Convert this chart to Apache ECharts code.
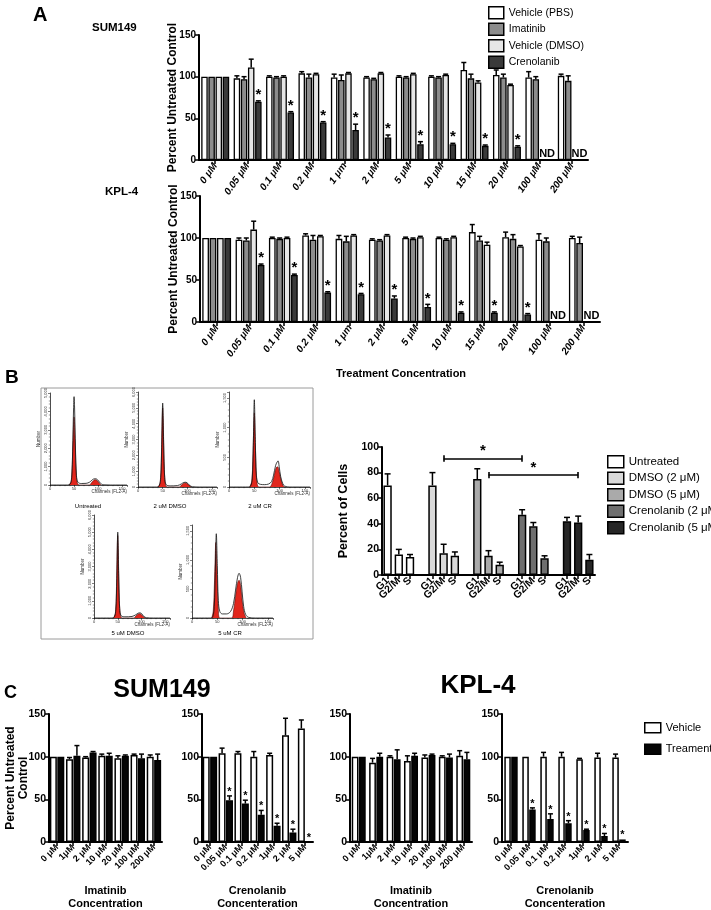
<!DOCTYPE html>
<html><head><meta charset="utf-8">
<script src="https://cdn.jsdelivr.net/npm/echarts@6/dist/echarts.min.js"></script>
<style>html,body{margin:0;padding:0;background:#fff}#c{width:711px;height:910px}</style>
</head><body><div id="c"></div>
<script>
// ================= DATA =================
// ---- Panel A ----
const aCategories = ['0 μM','0.05 μM','0.1 μM','0.2 μM','1 μm','2 μM','5 μM','10 μM','15 μM','20 μM','100 μM','200 μM'];
const aSeriesNames = ['Vehicle (PBS)','Imatinib','Vehicle (DMSO)','Crenolanib'];
// SUM149
const sumPBS      = [100,98,100,104,99,99,100,100,108,102,99,101];
const sumPBSErr   = [0,3,1,2,4,1,1,1,9,6,7,2];
const sumIma      = [100,97,99,99,96,97,99,99,98,99,97,95];
const sumImaErr   = [0,3,1,4,6,1,1,1,5,4,3,6];
const sumDMSO     = [100,111,100,103,104,104,103,102,93,90,null,null];
const sumDMSOErr  = [0,10,1,1,1,1,1,1,2,1,null,null];
const sumCren     = [100,70,57,45,36,27,19,19,17,16,null,null];
const sumCrenErr  = [0,1,1,1,7,3,3,1,1,1,null,null];
const sumCrenSig  = [0,1,1,1,1,1,1,1,1,1,0,0];
const sumCrenND   = [0,0,0,0,0,0,0,0,0,0,1,1];
// KPL-4
const kplPBS      = [100,98,100,103,99,98,100,100,107,101,98,100];
const kplPBSErr   = [0,2,1,2,4,1,1,1,9,6,7,2];
const kplIma      = [100,97,99,98,96,97,99,98,97,99,96,94];
const kplImaErr   = [0,3,1,5,6,1,1,1,5,5,4,7];
const kplDMSO     = [100,110,100,102,103,103,101,101,92,90,null,null];
const kplDMSOErr  = [0,10,1,1,1,1,1,1,3,1,null,null];
const kplCren     = [100,68,56,35,33,28,18,11,11,9,null,null];
const kplCrenErr  = [0,1,1,1,1,3,3,1,1,1,null,null];
const kplCrenSig  = [0,1,1,1,1,1,1,1,1,1,0,0];
const kplCrenND   = [0,0,0,0,0,0,0,0,0,0,1,1];

// ---- Panel B ----
const bTreatments = ['Untreated','DMSO (2 μM)','DMSO (5 μM)','Crenolanib (2 μM)','Crenolanib (5 μM)'];
const bPhases = ['G1','G2/M','S'];
const bUntreated = [70,16,14], bUntreatedErr = [9,4,2];
const bDMSO2     = [70,17,15], bDMSO2Err     = [10,7,3];
const bDMSO5     = [75,15,8],  bDMSO5Err     = [8,4,2];
const bCren2     = [47,38,13], bCren2Err     = [4,3,2];
const bCren5     = [42,41,12], bCren5Err     = [3,5,4];
// significance brackets: [treatmentIdx, phaseIdx] -> [treatmentIdx, phaseIdx], level
const bSigFrom  = [[1,1],[2,1]];
const bSigTo    = [[3,0],[4,1]];
const bSigLevel = [91,78];

// Flow histograms (channel, count)
const histTitles = ['Untreated','2 uM DMSO','2 uM CR','5 uM DMSO','5 uM CR'];
const histMax = [5000,6000,1600,6000,1600];
const histOutline = [
 [[0,0],[36,0],[42,60],[45,400],[47,1800],[49,4200],[50,4800],[51,4300],[53,1900],[55,500],[58,150],[65,80],[75,90],[82,150],[87,260],[91,330],[95,340],[99,280],[103,150],[107,50],[112,10],[125,0],[160,0]],
 [[0,0],[38,0],[43,80],[46,600],[48,2500],[50,5300],[52,2600],[54,600],[57,150],[65,70],[80,90],[88,200],[93,290],[97,300],[101,220],[105,90],[110,20],[125,0],[160,0]],
 [[0,0],[38,0],[43,20],[46,150],[48,700],[50,1470],[52,750],[54,200],[57,70],[62,45],[70,40],[78,50],[84,90],[88,200],[92,360],[95,420],[97,440],[99,350],[102,180],[106,60],[110,15],[120,0],[160,0]],
 [[0,0],[38,0],[43,70],[46,500],[48,2300],[50,5000],[52,2400],[54,550],[57,140],[65,70],[80,90],[88,190],[93,280],[97,300],[101,230],[105,90],[110,20],[125,0],[160,0]],
 [[0,0],[36,0],[41,20],[44,200],[46,800],[48,1450],[50,900],[52,300],[55,110],[60,70],[68,70],[76,110],[82,250],[86,480],[90,700],[93,770],[96,700],[99,450],[102,200],[106,60],[112,10],[125,0],[160,0]]
];
const histRed = [
 [[40,0],[44,200],[46,900],[48,2600],[50,3700],[52,2600],[54,900],[56,200],[60,0],[82,0],[86,110],[90,230],[94,290],[98,240],[102,110],[106,0]],
 [[41,0],[45,300],[47,1500],[49,4300],[50,5000],[51,4300],[53,1500],[55,300],[59,0],[84,0],[88,120],[92,220],[96,260],[100,200],[104,90],[108,0]],
 [[41,0],[45,100],[47,450],[49,1050],[50,1250],[51,1050],[53,450],[55,100],[59,0],[80,0],[85,60],[89,180],[93,320],[96,340],[99,260],[103,110],[107,20],[110,0]],
 [[41,0],[45,280],[47,1400],[49,4100],[50,4800],[51,4100],[53,1400],[55,280],[59,0],[84,0],[88,110],[92,210],[96,250],[100,190],[104,80],[108,0]],
 [[39,0],[42,120],[44,500],[46,1100],[47,1300],[48,1150],[50,600],[52,150],[55,0],[78,0],[82,120],[86,380],[90,600],[93,650],[96,560],[99,300],[103,80],[107,0]]
];

// ---- Panel C ----
const cImaCats  = ['0 μM','1μM','2 μM','10 μM','20 μM','100 μM','200 μM'];
const cCrenCats = ['0 μM','0.05 μM','0.1 μM','0.2 μM','1μM','2 μM','5 μM'];
const cSumImaVeh = [100,97,99,101,98,102,100], cSumImaVehErr = [0,2,1,2,3,1,2];
const cSumImaTrt = [100,101,105,101,101,98,96], cSumImaTrtErr = [0,12,1,3,1,5,7];
const cSumCrenVeh = [100,104,104,100,102,125,133], cSumCrenVehErr = [0,6,2,6,2,20,10];
const cSumCrenTrt = [100,49,45,32,19,11,0], cSumCrenTrtErr = [0,5,4,5,3,4,0];
const cSumCrenSig = [0,1,1,1,1,1,1];
const cKplImaVeh = [100,93,100,95,99,100,101], cKplImaVehErr = [0,5,1,6,3,1,6];
const cKplImaTrt = [100,100,97,101,102,99,97], cKplImaTrtErr = [0,4,11,3,1,4,8];
const cKplCrenVeh = [100,100,100,100,97,99,99], cKplCrenVehErr = [0,0,5,5,1,5,4];
const cKplCrenTrt = [100,38,27,22,14,7,3], cKplCrenTrtErr = [0,2,6,3,1,3,0];
const cKplCrenSig = [0,1,1,1,1,1,1];

// ================= STYLE / BUILD =================
const FONT = "'Liberation Sans', Arial, Helvetica, sans-serif";
const NARROW = "'Liberation Sans Narrow', 'Liberation Sans', Arial, sans-serif";
const series = [];

function errSeries(gi, n, idx, w, gap, data, o){
  return {type:'custom', xAxisIndex:gi, yAxisIndex:gi, data:data, silent:true, z:5, animation:false,
    encode:{x:0,y:1},
    renderItem:function(params, api){
      const cat=api.value(0), v=api.value(1), e=api.value(2), st=api.value(3), nd=api.value(4);
      const total=n*w+(n-1)*gap*w;
      const base=api.coord([cat,0]);
      const cx=base[0]-total/2+idx*(w+gap*w)+w/2;
      const yv=api.coord([cat,v])[1], ye=api.coord([cat,v+e])[1];
      const ch=[];
      if(e>0){
        ch.push({type:'line',shape:{x1:cx,y1:yv,x2:cx,y2:ye},style:{stroke:'#000',lineWidth:o.lw||1.5}});
        ch.push({type:'line',shape:{x1:cx-o.capW,y1:ye,x2:cx+o.capW,y2:ye},style:{stroke:'#000',lineWidth:o.lw||1.5}});
      }
      if(st){
        ch.push({type:'text',x:cx,y:ye-o.starDy,style:{text:'*',font:o.starFont,fill:'#000',align:'center',verticalAlign:'middle'}});
      }
      if(nd){
        ch.push({type:'text',x:cx+o.ndDx,y:base[1]-1,style:{text:'ND',font:'bold 11px '+NARROW,fill:'#000',align:'center',verticalAlign:'bottom'}});
      }
      return {type:'group',children:ch};
    }};
}

const aColors = ['#ffffff','#8c8c8c','#e6e6e6','#3a3a3a'];
function addA(gi, vals, errs, sig, nd, w){
  vals.forEach(function(arr,k){
    series.push({type:'bar',name:aSeriesNames[k],xAxisIndex:gi,yAxisIndex:gi,data:arr,barWidth:w,barGap:'10%',
      itemStyle:{color:aColors[k],borderColor:'#000',borderWidth:1.3},silent:true,animation:false});
  });
  vals.forEach(function(arr,k){
    const d=[];
    arr.forEach(function(v,i){
      const isNd=(k===3&&nd[i])?1:0;
      if(v==null&&!isNd) return;
      d.push([i, v==null?0:v, errs[k][i]||0, (k===3&&sig[i])?1:0, isNd]);
    });
    series.push(errSeries(gi,4,k,w,0.1,d,{capW:2.5,starDy:6,starFont:'bold 15px '+FONT,ndDx:-3}));
  });
}
addA(0,[sumPBS,sumIma,sumDMSO,sumCren],[sumPBSErr,sumImaErr,sumDMSOErr,sumCrenErr],sumCrenSig,sumCrenND,6.5);
addA(1,[kplPBS,kplIma,kplDMSO,kplCren],[kplPBSErr,kplImaErr,kplDMSOErr,kplCrenErr],kplCrenSig,kplCrenND,6.7);

// Panel B (slots: 3 phases per treatment, one blank slot between treatments)
const bColors = ['#ffffff','#d9d9d9','#aaaaaa','#6f6f6f','#262626'];
const bMeans = [bUntreated,bDMSO2,bDMSO5,bCren2,bCren5];
const bErrs = [bUntreatedErr,bDMSO2Err,bDMSO5Err,bCren2Err,bCren5Err];
const bSlots = [];
bTreatments.forEach(function(t,ti){ bPhases.forEach(function(p){bSlots.push(p);}); if(ti<bTreatments.length-1) bSlots.push(''); });
const slotOf = function(ti,pi){return ti*(bPhases.length+1)+pi;};
const bMark = [];
bSigLevel.forEach(function(lvl,k){
  const s1=slotOf(bSigFrom[k][0],bSigFrom[k][1]), s2=slotOf(bSigTo[k][0],bSigTo[k][1]);
  bMark.push([{coord:[s1,lvl],label:{show:true,formatter:'*',position:'middle',fontSize:15,fontWeight:'bold',color:'#000',distance:0,fontFamily:FONT}},{coord:[s2,lvl]}]);
  bMark.push([{coord:[s1,lvl-2.5]},{coord:[s1,lvl+2.5]}]);
  bMark.push([{coord:[s2,lvl-2.5]},{coord:[s2,lvl+2.5]}]);
});
bTreatments.forEach(function(t,ti){
  const d=bSlots.map(function(){return null;});
  const ed=[];
  bMeans[ti].forEach(function(v,pi){d[slotOf(ti,pi)]=v; ed.push([slotOf(ti,pi),v,bErrs[ti][pi],0,0]);});
  const s={type:'bar',name:t,xAxisIndex:2,yAxisIndex:2,data:d,barWidth:8.3,barGap:'-100%',
    itemStyle:{color:bColors[ti],borderColor:'#000',borderWidth:1.5},silent:true,animation:false};
  if(ti===0){ s.markLine={silent:true,symbol:['none','none'],animation:false,lineStyle:{color:'#000',width:1.6,type:'solid'},label:{show:false},data:bMark}; }
  series.push(s);
  series.push(errSeries(2,1,0,8.3,0,ed,{capW:3,starDy:6,starFont:'bold 14px '+FONT,ndDx:0}));
});

// Panel C
function addC(gi, veh, vehErr, trt, trtErr, sig, w){
  series.push({type:'bar',name:'Vehicle',xAxisIndex:gi,yAxisIndex:gi,data:veh,barWidth:w,barGap:'6%',
    itemStyle:{color:'#fff',borderColor:'#000',borderWidth:1.5},silent:true,animation:false});
  series.push({type:'bar',name:'Treament',xAxisIndex:gi,yAxisIndex:gi,data:trt,barWidth:w,barGap:'6%',
    itemStyle:{color:'#050505',borderColor:'#000',borderWidth:1.5},silent:true,animation:false});
  series.push(errSeries(gi,2,0,w,0.06,veh.map(function(v,i){return [i,v,vehErr[i],0,0];}),{capW:2.5,starDy:4,starFont:'bold 11px '+FONT}));
  series.push(errSeries(gi,2,1,w,0.06,trt.map(function(v,i){return [i,v,trtErr[i],sig?sig[i]:0,0];}),{capW:2.5,starDy:4,starFont:'bold 11px '+FONT}));
}
addC(3,cSumImaVeh,cSumImaVehErr,cSumImaTrt,cSumImaTrtErr,null,7);
addC(4,cSumCrenVeh,cSumCrenVehErr,cSumCrenTrt,cSumCrenTrtErr,cSumCrenSig,7);
addC(5,cKplImaVeh,cKplImaVehErr,cKplImaTrt,cKplImaTrtErr,null,6.8);
addC(6,cKplCrenVeh,cKplCrenVehErr,cKplCrenTrt,cKplCrenTrtErr,cKplCrenSig,6.5);

// Histograms
histOutline.forEach(function(h,k){
  const gi=7+k;
  series.push({type:'line',xAxisIndex:gi,yAxisIndex:gi,data:histRed[k],smooth:0.35,showSymbol:false,silent:true,animation:false,
    lineStyle:{color:'#5a0a0a',width:0.6},areaStyle:{color:'#e1261c',opacity:1}});
  series.push({type:'line',xAxisIndex:gi,yAxisIndex:gi,data:h,smooth:0.35,showSymbol:false,silent:true,animation:false,
    lineStyle:{color:'#111',width:0.8}});
});

// ================= AXES =================
const grids = [
 {left:199, top:35, width:389, height:125},
 {left:200, top:196, width:400, height:126},
 {left:382, top:447, width:213, height:128},
 {left:49, top:714, width:113, height:128},
 {left:202, top:714, width:111, height:128},
 {left:350, top:714, width:122, height:128},
 {left:502, top:714, width:126, height:128},
 {left:50, top:393, width:77, height:92},
 {left:138, top:392, width:79, height:95},
 {left:229, top:392, width:81, height:95},
 {left:94, top:515, width:76, height:103},
 {left:192, top:525, width:81, height:93}
].map(function(g){g.outerBoundsMode='none'; g.containLabel=false; return g;});

const blackLine = function(w){return {show:true,lineStyle:{color:'#000',width:w}};};
function catX(gi, data, o){
  return {type:'category',gridIndex:gi,data:data,axisLine:blackLine(o.lw||2),
    axisTick:{show:true,alignWithLabel:true,length:4,lineStyle:{color:'#000',width:1.5},interval:o.tickInterval||0},
    axisLabel:{interval:0,rotate:o.rotate,fontSize:o.fs,fontWeight:'bold',fontStyle:o.italic?'italic':'normal',fontFamily:o.ff||FONT,color:'#000',margin:o.margin||4},
    splitLine:{show:false},name:o.name||'',nameLocation:'middle',nameGap:o.nameGap||0,nameMoveOverlap:false,
    nameTextStyle:{fontSize:11,fontWeight:'bold',fontFamily:FONT,color:'#000',lineHeight:13}};
}
function valY(gi, max, interval, o){
  return {type:'value',gridIndex:gi,min:0,max:max,interval:interval,axisLine:blackLine(o.lw||2),
    axisTick:{show:true,length:4,lineStyle:{color:'#000',width:1.5}},
    axisLabel:{fontSize:o.fs,fontWeight:'bold',fontFamily:o.ff||FONT,color:'#000',margin:3},
    splitLine:{show:false},name:o.name||'',nameLocation:'middle',nameGap:o.nameGap||0,nameMoveOverlap:false,
    nameTextStyle:{fontSize:o.nfs||12,fontWeight:'bold',fontFamily:FONT,color:'#000',lineHeight:o.nlh||14}};
}
const xAxes = [
  catX(0,aCategories,{rotate:55,fs:10,italic:true,ff:NARROW}),
  catX(1,aCategories,{rotate:55,fs:10,italic:true,ff:NARROW}),
  catX(2,bSlots,{rotate:45,fs:10.5,tickInterval:function(i,v){return v!=='';}}),
  catX(3,cImaCats,{rotate:45,fs:9,name:'Imatinib\nConcentration',nameGap:42}),
  catX(4,cCrenCats,{rotate:45,fs:9,name:'Crenolanib\nConcenteration',nameGap:42}),
  catX(5,cImaCats,{rotate:45,fs:9,name:'Imatinib\nConcentration',nameGap:42}),
  catX(6,cCrenCats,{rotate:45,fs:9,name:'Crenolanib\nConcenteration',nameGap:42})
];
const yAxes = [
  valY(0,150,50,{fs:10,name:'Percent Untreated Control',nameGap:19,nfs:12}),
  valY(1,150,50,{fs:10,name:'Percent Untreated Control',nameGap:19,nfs:12}),
  valY(2,100,20,{fs:10.5,name:'Percent of Cells',nameGap:31,nfs:12.5}),
  valY(3,150,50,{fs:10.5,name:'Percent Untreated\nControl',nameGap:19,nfs:12,nlh:13}),
  valY(4,150,50,{fs:10.5}),
  valY(5,150,50,{fs:10.5}),
  valY(6,150,50,{fs:10.5})
];
histMax.forEach(function(m,k){
  const gi=7+k;
  xAxes.push({type:'value',gridIndex:gi,min:0,max:160,interval:50,
    axisLine:{show:true,lineStyle:{color:'#000',width:0.7}},
    axisTick:{show:true,length:2,lineStyle:{color:'#000',width:0.5}},
    minorTick:{show:true,splitNumber:5,length:1.2,lineStyle:{color:'#000',width:0.4}},
    axisLabel:{fontSize:4,margin:2,color:'#333',fontFamily:FONT},splitLine:{show:false},
    name:'Channels (FL2-A)',nameLocation:'end',nameGap:0,nameMoveOverlap:false,
    nameTextStyle:{fontSize:4.5,color:'#333',fontFamily:FONT,align:'right',verticalAlign:'top',padding:[4,0,0,0]}});
  yAxes.push({type:'value',gridIndex:gi,min:0,max:m,interval:(m>3000?1000:500),
    axisLine:{show:true,lineStyle:{color:'#000',width:0.7}},
    axisTick:{show:true,length:2,lineStyle:{color:'#000',width:0.5}},
    minorTick:{show:true,splitNumber:5,length:1.2,lineStyle:{color:'#000',width:0.4}},
    axisLabel:{fontSize:4,margin:2,rotate:90,color:'#333',fontFamily:FONT},splitLine:{show:false},
    name:'Number',nameLocation:'middle',nameGap:9,nameMoveOverlap:false,
    nameTextStyle:{fontSize:4.5,color:'#333',fontFamily:FONT}});
});

// ================= TEXT =================
const T = function(text,left,top,fs,o){o=o||{};return {text:text,left:left,top:top,textAlign:o.align||'left',padding:0,
  textStyle:{fontSize:fs,fontWeight:o.w||'bold',fontFamily:o.ff||FONT,color:'#000'}};};
const titles = [
  T('A',33,5,20), T('SUM149',92,22,11.5,{ff:NARROW}), T('KPL-4',105,186,11.5,{ff:NARROW}),
  T('Treatment Concentration',401,368,11,{align:'center',ff:NARROW}),
  T('B',5,368,19), T('C',4,684,18),
  T('SUM149',162,678,25,{align:'center'}), T('KPL-4',478,673,26,{align:'center'})
];
const histLabelPos = [[88,503],[170,503],[260,503],[128,630],[230,630]];
histTitles.forEach(function(t,k){titles.push(T(t,histLabelPos[k][0],histLabelPos[k][1],6,{align:'center',w:'normal'}));});

const legendBase = {orient:'vertical',itemGap:3,textStyle:{fontFamily:FONT,color:'#000'},selectedMode:false,icon:'rect'};
const legends = [
  Object.assign({},legendBase,{left:483,top:1,itemWidth:15,itemHeight:12,textStyle:{fontSize:10.5,fontFamily:FONT,color:'#000'},
    data:aSeriesNames.map(function(n,k){return {name:n,itemStyle:{color:aColors[k],borderColor:'#000',borderWidth:1.5}};})}),
  Object.assign({},legendBase,{left:602,top:450,itemWidth:16,itemHeight:12,textStyle:{fontSize:11.5,fontFamily:FONT,color:'#000'},
    data:bTreatments.map(function(n,k){return {name:n,itemStyle:{color:bColors[k],borderColor:'#000',borderWidth:1.5}};})}),
  Object.assign({},legendBase,{left:639,top:717,itemWidth:16,itemHeight:10,itemGap:10,textStyle:{fontSize:11,fontFamily:FONT,color:'#000'},
    data:[{name:'Vehicle',itemStyle:{color:'#fff',borderColor:'#000',borderWidth:1.5}},{name:'Treament',itemStyle:{color:'#050505',borderColor:'#000',borderWidth:1.5}}]})
];

const chart = echarts.init(document.getElementById('c'), null, {renderer:'canvas'});
chart.setOption({
  animation:false, backgroundColor:'#fff',
  title:titles, legend:legends, grid:grids, xAxis:xAxes, yAxis:yAxes, series:series,
  graphic:[{type:'rect',shape:{x:41,y:388,width:272,height:251},style:{fill:'none',stroke:'#9a9a9a',lineWidth:1},silent:true}]
});
</script></body></html>
